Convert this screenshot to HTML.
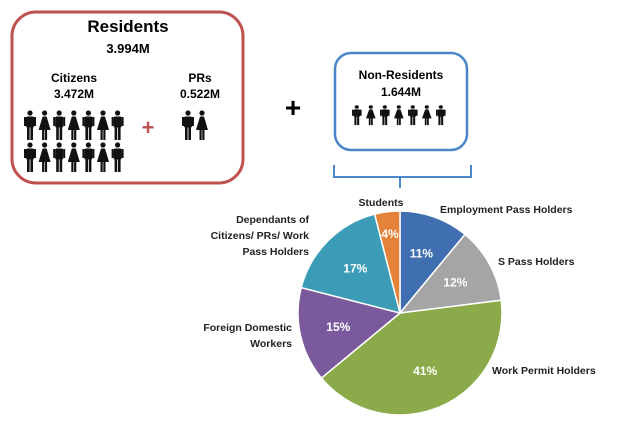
<!DOCTYPE html>
<html><head><meta charset="utf-8"><style>
body{margin:0;background:#fff;font-family:"Liberation Sans",sans-serif;}
svg text{font-family:"Liberation Sans",sans-serif;font-weight:bold;}
</style></head><body>
<svg id="c" width="640" height="430" viewBox="0 0 640 430">
<defs>
<g id="man"><circle cx="6" cy="3" r="2.6" fill="#111"/><rect x="2" y="6.5" width="8" height="11" rx="1.5" fill="#111"/><rect x="0" y="7" width="2" height="9" fill="#111"/><rect x="10" y="7" width="2" height="9" fill="#111"/><rect x="3" y="17" width="2.6" height="13" fill="#111"/><rect x="6.4" y="17" width="2.6" height="13" fill="#111"/></g>
<g id="woman"><circle cx="6" cy="3" r="2.6" fill="#111"/><polygon points="4,6.5 8,6.5 12,20 0,20" fill="#111"/><rect x="3.5" y="19" width="2.2" height="11" fill="#111"/><rect x="6.3" y="19" width="2.2" height="11" fill="#111"/></g>
</defs>
<rect x="12" y="12" width="231" height="171" rx="24" fill="none" stroke="#c0504d" stroke-width="3"/>
<text x="128" y="32" text-anchor="middle" font-size="17">Residents</text>
<text x="128" y="53" text-anchor="middle" font-size="13">3.994M</text>
<text x="74" y="82" text-anchor="middle" font-size="12">Citizens</text>
<text x="74" y="98" text-anchor="middle" font-size="12">3.472M</text>
<text x="200" y="82" text-anchor="middle" font-size="12">PRs</text>
<text x="200" y="98" text-anchor="middle" font-size="12">0.522M</text>
<g id="citizens"></g>
<text x="148" y="135" text-anchor="middle" font-size="22" fill="#c0504d">+</text>
<g transform="translate(182,110)"><use href="#man"/><use href="#woman" x="14"/></g>
<text x="293" y="117" text-anchor="middle" font-size="28">+</text>
<rect x="335" y="53" width="132" height="97" rx="16" fill="none" stroke="#4a86c8" stroke-width="2.5"/>
<text x="401" y="79" text-anchor="middle" font-size="12">Non-Residents</text>
<text x="401" y="96" text-anchor="middle" font-size="12">1.644M</text>
<g id="nonres"></g>
<path d="M334,165 L334,177 L400,177 L400,188 M400,177 L471,177 L471,165" fill="none" stroke="#4a86c8" stroke-width="2"/>
<g id="pie"></g>
</svg>
<script>
const categories=["Employment Pass Holders","S Pass Holders","Work Permit Holders","Foreign Domestic Workers","Dependants","Students"];
const values=[11,12,41,15,17,4];
const colors=["#3f6fb0","#a5a5a5","#8bab4a","#7a5a9c","#3c9cb8","#e4823a"];
const NS="http://www.w3.org/2000/svg";
const cit=document.getElementById('citizens');
for(let r=0;r<2;r++)for(let i=0;i<7;i++){const u=document.createElementNS(NS,'use');u.setAttribute('href',i%2?'#woman':'#man');u.setAttribute('x',24+i*14.6);u.setAttribute('y',110+r*32);


cit.appendChild(u);}
const nr=document.getElementById('nonres');
for(let i=0;i<7;i++){const u=document.createElementNS(NS,'use');u.setAttribute('href',i%2?'#woman':'#man');u.setAttribute('transform','translate('+(352+i*14)+',105) scale(0.8,0.67)');


nr.appendChild(u);}
const cx=400,cy=313,R=102;const pie=document.getElementById('pie');
const total=values.reduce((a,b)=>a+b,0);let a0=0;
const pt=(a,r)=>[cx+r*Math.sin(a),cy-r*Math.cos(a)];
values.forEach((v,i)=>{const a1=a0+v/total*2*Math.PI;const p0=pt(a0,R),p1=pt(a1,R);
const p=document.createElementNS(NS,'path');
p.setAttribute('d',`M${cx},${cy}L${p0[0]},${p0[1]}A${R},${R} 0 ${a1-a0>Math.PI?1:0} 1 ${p1[0]},${p1[1]}Z`);
p.setAttribute('fill',colors[i]);p.setAttribute('stroke','#fff');p.setAttribute('stroke-width','1.5');


pie.appendChild(p);
const m=(a0+a1)/2;const lp=pt(m,i==5?R*0.78:R*0.62);
const t=document.createElementNS(NS,'text');t.setAttribute('x',lp[0]);t.setAttribute('y',lp[1]+4);t.setAttribute('text-anchor','middle');t.setAttribute('font-size','12');t.setAttribute('fill','#fff');t.textContent=v+'%';


pie.appendChild(t);a0=a1;});
const labels=[["Employment Pass Holders",440,213,"start"],["S Pass Holders",498,265,"start"],["Work Permit Holders",492,374,"start"],["Foreign Domestic",292,331,"end"],["Workers",292,347,"end"],["Dependants of",309,223,"end"],["Citizens/ PRs/ Work",309,239,"end"],["Pass Holders",309,255,"end"],["Students",381,206,"middle"]];
labels.forEach(l=>{const t=document.createElementNS(NS,'text');t.setAttribute('x',l[1]);t.setAttribute('y',l[2]);t.setAttribute('text-anchor',l[3]);t.setAttribute('font-size','10.5');t.setAttribute('fill','#222');t.textContent=l[0];


pie.appendChild(t);});
</script>
</body></html>
